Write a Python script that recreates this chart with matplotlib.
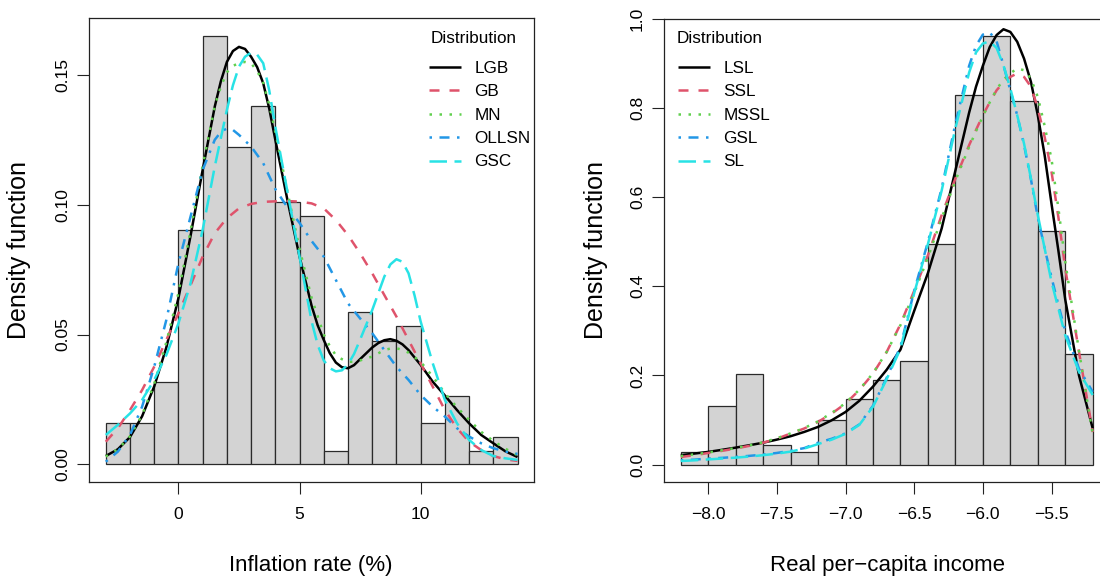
import numpy as np
import matplotlib
matplotlib.use("Agg")
import matplotlib.pyplot as plt

plt.rcParams['font.family'] = ['Liberation Sans', 'DejaVu Sans']

# ---------------- Left panel data: Inflation rate (%) ----------------
infl_edges = [-3, -2, -1, 0, 1, 2, 3, 4, 5, 6, 7, 8, 9, 10, 11, 12, 13, 14]
infl_density = [0.0158, 0.0158, 0.0318, 0.0904, 0.1649, 0.1222, 0.1382, 0.1009,
                0.0956, 0.0051, 0.0585, 0.0476, 0.0531, 0.0158, 0.0264, 0.0051, 0.0106]

lgb_x = [-3, -2.5, -2, -1.5, -1, -0.5, 0, 0.5, 1, 1.5, 1.75, 2, 2.25, 2.5, 2.75,
         3, 3.25, 3.5, 3.75, 4, 4.5, 5, 5.5, 5.75, 6, 6.25, 6.5, 6.75, 7, 7.25,
         7.5, 8, 8.25, 8.5, 8.75, 9, 9.25, 9.5, 10, 10.5, 11, 11.5, 12, 12.5,
         13, 13.5, 14]
lgb = [0.0032, 0.0058, 0.0105, 0.0185, 0.0300, 0.0450, 0.0640, 0.0880, 0.1134,
       0.1378, 0.1475, 0.1550, 0.1592, 0.1608, 0.1600, 0.1570, 0.1530, 0.1468,
       0.1370, 0.1250, 0.1018, 0.0800, 0.0610, 0.0535, 0.0479, 0.0428, 0.0392,
       0.0374, 0.0370, 0.0382, 0.0405, 0.0450, 0.0467, 0.0478, 0.0482, 0.0476,
       0.0462, 0.0440, 0.0383, 0.0318, 0.0265, 0.0209, 0.0158, 0.0113, 0.0081,
       0.0050, 0.0028]

infl_x = [-3, -2.5, -2, -1.5, -1, -0.5, 0, 0.5, 1, 1.5, 2, 2.5, 3, 3.5, 4, 4.5,
          5, 5.5, 6, 6.5, 7, 7.5, 8, 8.5, 9, 9.5, 10, 10.5, 11, 11.5, 12, 12.5,
          13, 13.5, 14]
gb = [0.0087, 0.0139, 0.0209, 0.0286, 0.0376, 0.0479, 0.0582, 0.0690, 0.0800,
      0.0890, 0.0948, 0.0986, 0.1003, 0.1011, 0.1013, 0.1014, 0.1012, 0.1005,
      0.0986, 0.0941, 0.0883, 0.0813, 0.0736, 0.0652, 0.0569, 0.0479, 0.0389,
      0.0299, 0.0209, 0.0139, 0.0087, 0.0055, 0.0032, 0.0019, 0.0013]

mn_x = [-3, -2.5, -2, -1.5, -1, -0.5, 0, 0.5, 1, 1.5, 1.75, 2, 2.25, 2.5, 2.75,
        3, 3.25, 3.5, 3.75, 4, 4.5, 5, 5.5, 6, 6.25, 6.5, 6.75, 7, 7.25, 7.5, 8,
        8.5, 8.75, 9, 9.25, 9.5, 10, 10.5, 11, 11.5, 12, 12.5, 13, 13.5, 14]
mn = [0.0030, 0.0058, 0.0108, 0.0190, 0.0310, 0.0470, 0.0660, 0.0900, 0.1150,
      0.1380, 0.1455, 0.1510, 0.1535, 0.1545, 0.1550, 0.1545, 0.1515, 0.1470,
      0.1385, 0.1280, 0.1050, 0.0830, 0.0640, 0.0500, 0.0455, 0.0420, 0.0405,
      0.0395, 0.0395, 0.0400, 0.0415, 0.0440, 0.0446, 0.0447, 0.0441, 0.0430,
      0.0395, 0.0338, 0.0274, 0.0220, 0.0171, 0.0125, 0.0090, 0.0060, 0.0035]

ollsn_x = [-3, -2.5, -2, -1.5, -1, -0.5, 0, 0.5, 1, 1.5, 1.75, 2, 2.25, 2.5, 3,
           3.5, 4, 4.5, 5, 5.5, 6, 6.5, 7, 7.5, 8, 8.5, 9, 9.5, 10, 10.5, 11,
           11.5, 12, 12.5, 13, 13.5, 14]
ollsn = [0.0010, 0.0049, 0.0113, 0.0222, 0.0376, 0.0556, 0.0774, 0.0954, 0.1134,
         0.1250, 0.1280, 0.1294, 0.1288, 0.1269, 0.1224, 0.1160, 0.1060, 0.0990,
         0.0930, 0.0860, 0.0800, 0.0710, 0.0620, 0.0562, 0.0505, 0.0440, 0.0376,
         0.0325, 0.0267, 0.0222, 0.0184, 0.0139, 0.0107, 0.0081, 0.0062, 0.0049,
         0.0040]

gsc_x = [-3, -2.5, -2, -1.5, -1, -0.5, 0, 0.5, 1, 1.5, 2, 2.25, 2.5, 2.75, 3,
         3.25, 3.5, 3.75, 4, 4.5, 5, 5.5, 5.75, 6, 6.25, 6.5, 6.75, 7, 7.25,
         7.5, 8, 8.5, 8.75, 9, 9.25, 9.5, 9.75, 10, 10.5, 11, 11.5, 12, 12.5,
         13, 13.5, 14]
gsc = [0.0113, 0.0152, 0.0196, 0.0248, 0.0325, 0.0421, 0.0543, 0.0697, 0.0903,
       0.1147, 0.1365, 0.1460, 0.1532, 0.1570, 0.1586, 0.1578, 0.1545, 0.1440,
       0.1300, 0.1050, 0.0800, 0.0550, 0.0460, 0.0400, 0.0370, 0.0358, 0.0362,
       0.0385, 0.0425, 0.0480, 0.0594, 0.0723, 0.0770, 0.0790, 0.0780, 0.0736,
       0.0650, 0.0550, 0.0389, 0.0248, 0.0158, 0.0094, 0.0055, 0.0032, 0.0023,
       0.0017]

# ---------------- Right panel data: Real per-capita income ----------------
inc_edges = [-8.2, -8.0, -7.8, -7.6, -7.4, -7.2, -7.0, -6.8, -6.6, -6.4, -6.2,
             -6.0, -5.8, -5.6, -5.4, -5.2]
inc_density = [0.028, 0.131, 0.203, 0.043, 0.028, 0.101, 0.146, 0.189, 0.233,
               0.494, 0.830, 0.961, 0.816, 0.524, 0.248]

inc_x = [-8.2, -8.1, -8.0, -7.9, -7.8, -7.7, -7.6, -7.5, -7.4, -7.3, -7.2, -7.1,
         -7.0, -6.9, -6.8, -6.7, -6.6, -6.5, -6.4, -6.3, -6.2, -6.1, -6.05, -6.0,
         -5.95, -5.9, -5.85, -5.8, -5.75, -5.7, -5.65, -5.6, -5.55, -5.5, -5.45,
         -5.4, -5.3, -5.2]
lsl = [0.021, 0.0247, 0.0284, 0.033, 0.038, 0.0434, 0.049, 0.056, 0.0636, 0.0733,
       0.0845, 0.0995, 0.118, 0.143, 0.175, 0.213, 0.258, 0.345, 0.430, 0.530,
       0.660, 0.790, 0.848, 0.895, 0.937, 0.964, 0.977, 0.971, 0.949, 0.911,
       0.859, 0.784, 0.694, 0.585, 0.480, 0.370, 0.200, 0.081]
ssl = [0.017, 0.021, 0.026, 0.0307, 0.036, 0.042, 0.049, 0.058, 0.0696, 0.081,
       0.0958, 0.1145, 0.137, 0.167, 0.204, 0.253, 0.315, 0.390, 0.470, 0.560,
       0.642, 0.717, 0.751, 0.784, 0.813, 0.840, 0.858, 0.870, 0.878, 0.870,
       0.848, 0.800, 0.735, 0.657, 0.555, 0.440, 0.253, 0.073]
mssl = [0.019, 0.023, 0.027, 0.032, 0.037, 0.043, 0.050, 0.059, 0.070, 0.082,
        0.097, 0.116, 0.138, 0.168, 0.205, 0.253, 0.313, 0.385, 0.465, 0.553,
        0.637, 0.713, 0.748, 0.782, 0.813, 0.842, 0.864, 0.878, 0.889, 0.885,
        0.866, 0.825, 0.760, 0.685, 0.575, 0.455, 0.255, 0.068]
gsl = [0.0097, 0.011, 0.0135, 0.015, 0.0172, 0.0195, 0.0224, 0.026, 0.031, 0.037,
       0.049, 0.058, 0.070, 0.090, 0.132, 0.195, 0.265, 0.390, 0.500, 0.620,
       0.765, 0.895, 0.940, 0.965, 0.970, 0.950, 0.896, 0.840, 0.784, 0.717,
       0.640, 0.555, 0.485, 0.420, 0.358, 0.300, 0.215, 0.163]
sl = [0.008, 0.0095, 0.0115, 0.0135, 0.0155, 0.018, 0.021, 0.0245, 0.029, 0.036,
      0.046, 0.056, 0.069, 0.089, 0.130, 0.192, 0.260, 0.385, 0.495, 0.615,
      0.755, 0.880, 0.925, 0.945, 0.950, 0.935, 0.896, 0.844, 0.784, 0.720,
      0.642, 0.560, 0.485, 0.410, 0.350, 0.290, 0.208, 0.156]

infl_xticks = [0, 5, 10]
infl_yticks = [0.00, 0.05, 0.10, 0.15]
infl_yticklabels = ["0.00", "0.05", "0.10", "0.15"]
inc_xticks = [-8.0, -7.5, -7.0, -6.5, -6.0, -5.5]
inc_xticklabels = ["\u22128.0", "\u22127.5", "\u22127.0", "\u22126.5", "\u22126.0", "\u22125.5"]
inc_yticks = [0.0, 0.2, 0.4, 0.6, 0.8, 1.0]
inc_yticklabels = ["0.0", "0.2", "0.4", "0.6", "0.8", "1.0"]

left_names = ["LGB", "GB", "MN", "OLLSN", "GSC"]
right_names = ["LSL", "SSL", "MSSL", "GSL", "SL"]

# ---------------- styles ----------------
colors = ["black", "#DF536B", "#61D04F", "#2297E6", "#28E2E5"]
dashes = [None, (4, 4), (1, 3), (1, 3, 4, 3), (7, 3)]
LW = 1.8

W, H = 1100, 578
fig = plt.figure(figsize=(W / 100, H / 100), dpi=100)


def fx(px):
    return px / W


def fy(py):
    return 1 - py / H


axL = fig.add_axes([fx(89.3), fy(481.7), fx(534 - 89.3), (481.7 - 18.4) / H])
axR = fig.add_axes([fx(664.3), fy(481.7), fx(1109.2 - 664.3), (481.7 - 19.0) / H])


def draw(ax, edges, dens, series, names):
    e = np.asarray(edges, dtype=float)
    ax.bar(e[:-1], dens, width=np.diff(e), align='edge', color='#D3D3D3',
           edgecolor='#2a2a2a', linewidth=0.9, zorder=1)
    handles = []
    for (x, c), col, d, nm in zip(series, colors, dashes, names):
        ln, = ax.plot(x, c, color=col, lw=LW, zorder=3, label=nm,
                      solid_capstyle='butt', dash_capstyle='butt',
                      solid_joinstyle='round', dash_joinstyle='round')
        if d is not None:
            ln.set_dashes(d)
        handles.append(ln)
    for s in ax.spines.values():
        s.set_linewidth(0.9)
        s.set_color('#222222')
    ax.tick_params(axis='both', direction='out', length=8.4, width=0.8,
                   color='#222222')
    ax.tick_params(axis='x', labelsize=12.6, pad=10.0)
    ax.tick_params(axis='y', labelsize=12.6, pad=5.5, labelrotation=90)
    return handles


hL = draw(axL, infl_edges, infl_density,
          [(lgb_x, lgb), (infl_x, gb), (mn_x, mn), (ollsn_x, ollsn), (gsc_x, gsc)],
          left_names)
hR = draw(axR, inc_edges, inc_density,
          [(inc_x, lsl), (inc_x, ssl), (inc_x, mssl), (inc_x, gsl), (inc_x, sl)],
          right_names)

axL.set_xlim(-3.68, 14.68)
axL.set_ylim(-0.0067, 0.17177)
axL.set_xticks(infl_xticks)
axL.set_xticklabels([str(t) for t in infl_xticks])
axL.set_yticks(infl_yticks)
axL.set_yticklabels(infl_yticklabels, va='center')

axR.set_xlim(-8.32, -5.08)
axR.set_ylim(-0.0385, 1.0)
axR.set_xticks(inc_xticks)
axR.set_xticklabels(inc_xticklabels)
axR.set_yticks(inc_yticks)
axR.set_yticklabels(inc_yticklabels, va='center')

# axis titles
fig.text(fx(311), fy(571), "Inflation rate (%)", ha='center', va='baseline', fontsize=16)
fig.text(fx(887), fy(571), "Real per\u2212capita income", ha='center', va='baseline', fontsize=16)
fig.text(fx(19), fy(250.5), "Density function", ha='center', va='center',
         rotation=90, fontsize=18)
fig.text(fx(596), fy(250), "Density function", ha='center', va='center',
         rotation=90, fontsize=18)

# legends
LEG_FS = 12.3
for ax, handles, names, lx, tcx in [(axL, hL, left_names, 429, 474),
                                     (axR, hR, right_names, 678, 719.5)]:
    ax.legend(handles, names, loc='upper left',
              bbox_to_anchor=(fx(lx), fy(61.0)), bbox_transform=fig.transFigure,
              frameon=False, fontsize=LEG_FS, borderpad=0, borderaxespad=0,
              handlelength=1.85, handletextpad=0.8, labelspacing=0.49)
    fig.text(fx(tcx), fy(42.8), "Distribution", ha='center', va='baseline',
             fontsize=LEG_FS)

fig.savefig("out.png", dpi=100)
